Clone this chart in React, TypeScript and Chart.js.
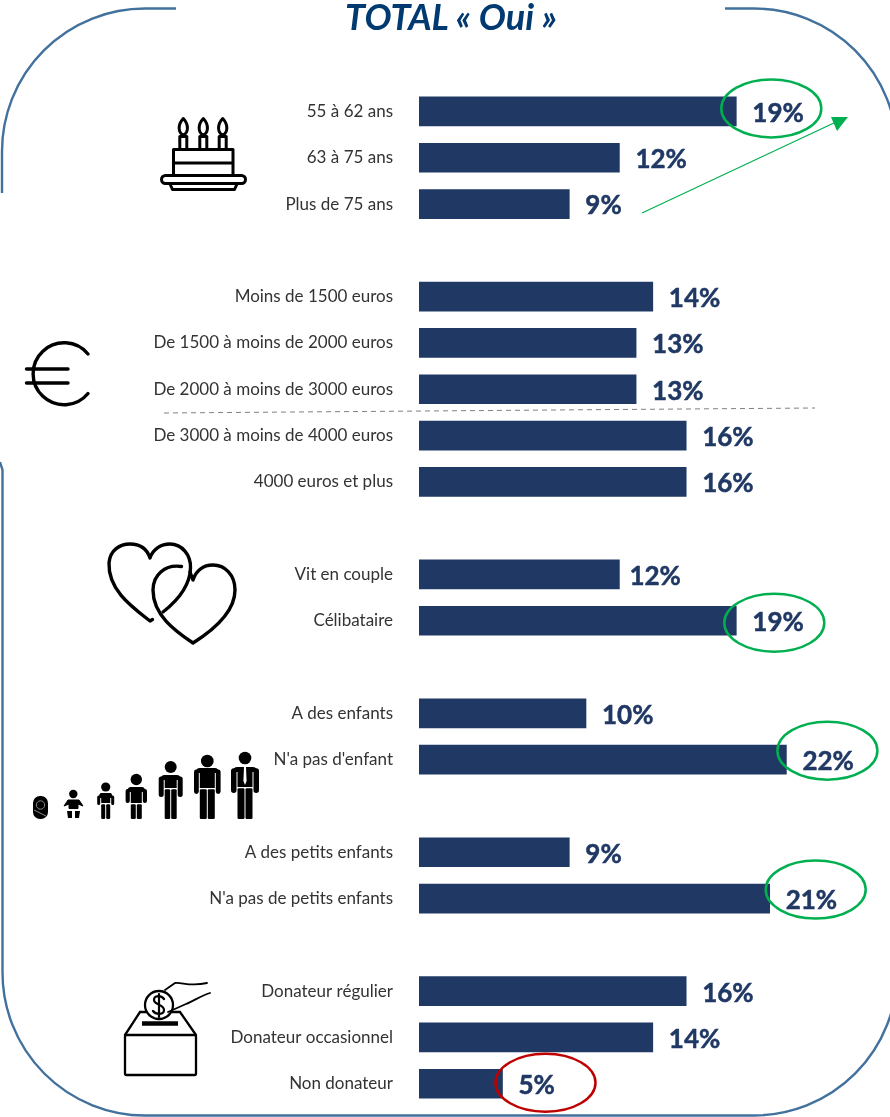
import React, { useEffect, useRef } from "react";
import { Chart, registerables } from "chart.js";

Chart.register(...registerables);

const categories = [
  "55 à 62 ans", "63 à 75 ans", "Plus de 75 ans", "",
  "Moins de 1500 euros", "De 1500 à moins de 2000 euros", "De 2000 à moins de 3000 euros",
  "De 3000 à moins de 4000 euros", "4000 euros et plus", "",
  "Vit en couple", "Célibataire", "",
  "A des enfants", "N'a pas d'enfant", "",
  "A des petits enfants", "N'a pas de petits enfants", "",
  "Donateur régulier", "Donateur occasionnel", "Non donateur",
];
const values = [
  19, 12, 9, null,
  14, 13, 13, 16, 16, null,
  12, 19, null,
  10, 22, null,
  9, 21, null,
  16, 14, 5,
];
const title = "TOTAL « Oui »";

const NAVY = "#203864";
const GREEN = "#00B050";
const RED = "#C00000";
const FRAME = "#41719C";

// highlighted value rings: row index, colour, offset of the ring from the bar end
const rings: [number, string, number, number][] = [
  [0, GREEN, 35, -3],
  [11, GREEN, 38, 2],
  [14, GREEN, 41, -9],
  [17, GREEN, 46, -9],
  [21, RED, 43, -1],
];

const annotations = {
  id: "annotations",
  afterDatasetsDraw(chart: any) {
    const { ctx, scales } = chart;
    const meta = chart.getDatasetMeta(0);
    ctx.save();
    ctx.font = "bold 26px Lato";
    ctx.fillStyle = NAVY;
    ctx.strokeStyle = NAVY;
    ctx.lineWidth = 0.5;
    ctx.textAlign = "left";
    ctx.textBaseline = "middle";
    values.forEach((v, i) => {
      if (v == null) return;
      const y = scales.y.getPixelForValue(i) + 2;
      const x = meta.data[i].x + (i === 10 ? 10 : 16);
      ctx.fillText(`${v}%`, x, y);
      ctx.strokeText(`${v}%`, x, y);
    });
    ctx.lineWidth = 2.5;
    rings.forEach(([row, color, dx, dy]) => {
      const cx = scales.x.getPixelForValue(values[row] as number) + dx;
      const cy = scales.y.getPixelForValue(row) + dy;
      ctx.strokeStyle = color;
      ctx.beginPath();
      ctx.ellipse(cx, cy, 50, 29, 0, 0, Math.PI * 2);
      ctx.stroke();
    });
    // growth arrow
    ctx.strokeStyle = GREEN;
    ctx.fillStyle = GREEN;
    ctx.lineWidth = 1.2;
    ctx.beginPath();
    ctx.moveTo(642, 213);
    ctx.lineTo(836, 122);
    ctx.stroke();
    ctx.beginPath();
    ctx.moveTo(831, 117);
    ctx.lineTo(848, 117);
    ctx.lineTo(837, 131);
    ctx.closePath();
    ctx.fill();
    // income separator
    ctx.strokeStyle = "#7F7F7F";
    ctx.lineWidth = 1;
    ctx.setLineDash([5, 4]);
    ctx.beginPath();
    ctx.moveTo(164, 413);
    ctx.lineTo(815, 408);
    ctx.stroke();
    ctx.restore();
  },
};

function Person({ x, head, r, top, hip, bottom, A, L, armEnd, tie }: any) {
  const a = A - L - 1;
  const ax = A - a / 2;
  return (
    <g>
      <circle cx={x} cy={head} r={r} fill="#000" />
      <path
        d={`M${x - A + 1.5} ${top + 5} Q${x - A + 2} ${top} ${x - L} ${top} H${x + L} Q${x + A - 2} ${top} ${x + A - 1.5} ${top + 5} Z`}
        fill="#000"
      />
      <rect x={x - L} y={top} width={L * 2} height={hip - top} fill="#000" />
      <path
        d={`M${x - ax} ${top + 4} V${armEnd - a / 2} M${x + ax} ${top + 4} V${armEnd - a / 2}`}
        stroke="#000"
        strokeWidth={a}
        strokeLinecap="round"
        fill="none"
      />
      <rect x={x - L} y={hip + 1.2} width={L - 0.5} height={bottom - hip - 1.2} rx={1.2} fill="#000" />
      <rect x={x + 0.5} y={hip + 1.2} width={L - 0.5} height={bottom - hip - 1.2} rx={1.2} fill="#000" />
      {tie && <path d={`M${x - 1} ${top} L${x + 1} ${top} L${x + 1.6} ${hip - 6} L${x} ${hip - 2} L${x - 1.6} ${hip - 6} Z`} fill="#fff" />}
    </g>
  );
}

function Decorations() {
  const k = { fill: "none", stroke: "#000", strokeLinecap: "round" as const, strokeLinejoin: "round" as const };
  return (
    <svg
      width={890}
      height={1117}
      style={{ position: "absolute", left: 0, top: 0, pointerEvents: "none" }}
    >
      {/* frame */}
      <g fill="none" stroke={FRAME} strokeWidth={2.4}>
        <path d="M176 8.5 H145 A143 143 0 0 0 2 151.5 V193" />
        <path d="M725 8.5 H754 A143 143 0 0 1 897 151.5" />
        <path d="M0 462 L2.5 470 V972 A143 143 0 0 0 145 1115.5 H754 A143 143 0 0 0 897 972" />
      </g>
      {/* cake */}
      <g {...k} strokeWidth={3}>
        {[183.3, 203.3, 222.7].map((x) => (
          <g key={x}>
            <path d={`M${x} 118.5 C${x + 6} 125 ${x + 5} 133 ${x} 135 C${x - 5} 133 ${x - 6} 125 ${x} 118.5 Z`} />
            <path d={`M${x - 3.5} 149 V136.5 H${x + 3.5} V149`} />
          </g>
        ))}
        <path d="M173.5 175 V149.5 H233 V175 M173.5 163 H233" />
        <rect x={161.5} y={175.5} width={84} height={8} rx={4} />
        <path d="M170 184 L172.5 189.5 H234.5 L237 184" />
      </g>
      {/* euro */}
      <g {...k} strokeWidth={3.4}>
        <path d="M88 354 A31 31 0 1 0 88 393.5" />
        <path d="M26.5 369 H68 M26.5 383 H68" />
      </g>
      {/* hearts */}
      <g {...k} strokeWidth={3.4}>
        <path d="M152.5 619.5 L150 621 C132 607 108 590 109 563 C110 550 120 544 130 544 C140 544 147 549 150 558 C153 549 161 544 170 544 C182 544 191 555 190.5 568 C190 586 177 601 163 612" />
        <path d="M181.5 566.5 C165 564 153 575 153 590 C153 615 175 631 193 643 C212 631 235 613 235 590 C235 575 225 565 213 565 C203 565 196 571 193 580 C192 577 191 575 190 572" />
      </g>
      {/* age ladder */}
      <g>
        <rect x={33} y={796} width={15} height={23} rx={7} fill="#000" />
        <circle cx={40.5} cy={805} r={4.2} fill="none" stroke="#888" strokeWidth={1} />
        <path d="M34 810 L46 816" stroke="#888" strokeWidth={1} />
        <circle cx={73.3} cy={794} r={4.2} fill="#000" />
        <path d="M64 806 L68 800 H79 L83 806 L78 804 V808.5 H69 V804 Z" fill="#000" stroke="#000" strokeWidth={1} strokeLinejoin="round" />
        <path d="M67 811 H72 V818 H68 Z M75 811 H80 L79 818 H75 Z" fill="#000" />
        <Person x={105.7} head={787} r={4.6} top={793} hip={803} bottom={819} A={8.5} L={4.5} armEnd={805} />
        <Person x={136.3} head={779.5} r={5.7} top={787} hip={803} bottom={819} A={10.7} L={5.5} armEnd={803} />
        <Person x={170.7} head={767} r={6} top={775} hip={788} bottom={819} A={12} L={6} armEnd={797} />
        <Person x={207.3} head={761} r={6.3} top={768} hip={788} bottom={819} A={13.3} L={7.5} armEnd={794} />
        <Person x={245} head={758} r={6.3} top={767} hip={787} bottom={819} A={14} L={7.5} armEnd={793} tie />
      </g>
      {/* donation box */}
      <g {...k} strokeWidth={2.3}>
        <rect x={125} y={1035} width={71} height={40} rx={1.5} />
        <path d="M125 1035 L140 1012 M180 1012 L196 1035 M140 1012 H146 M172 1012 H180" />
        <path d="M142 1023.5 H178" strokeWidth={4.5} strokeLinecap="butt" />
        <circle cx={159} cy={1005} r={14} />
        <path d="M164 999 C161 995 154 995 154 1000 C154 1005 164 1004 164 1010 C164 1015 156 1015 153 1011 M159 994 V1017" strokeWidth={2.2} />
        <path d="M165 990 L175 983 C182 982 190 987 207 983 M210 993 C200 996 194 1001 186 1004 L168 1012" strokeWidth={1.8} />
      </g>
    </svg>
  );
}

export default function App() {
  const ref = useRef<HTMLCanvasElement>(null);
  useEffect(() => {
    const chart = new Chart(ref.current!, {
      type: "bar",
      data: {
        labels: categories,
        datasets: [{ data: values as any, backgroundColor: NAVY, barThickness: 29 }],
      },
      options: {
        indexAxis: "y",
        animation: false,
        responsive: false,
        layout: { padding: { top: 88.3, bottom: 10.1, right: 3.4, left: 0 } },
        plugins: { legend: { display: false }, tooltip: { enabled: false }, title: { display: false } },
        scales: {
          x: { display: false, min: 0, max: 28 },
          y: {
            grid: { display: false, drawTicks: false },
            border: { display: false },
            afterFit(axis: any) {
              axis.width = 419;
              axis.paddingTop = 0;
              axis.paddingBottom = 0;
            },
            ticks: {
              autoSkip: false,
              padding: 26,
              color: "#333333",
              font: { family: "Lato", size: 17 },
            },
          },
        },
      },
      plugins: [annotations],
    });
    return () => chart.destroy();
  }, []);
  return (
    <div style={{ position: "absolute", left: 0, top: 0, width: 890, height: 1117, overflow: "hidden", background: "#fff" }}>
      <canvas ref={ref} width={890} height={1117} style={{ display: "block" }} />
      <Decorations />
      <div
        style={{
          position: "absolute", left: 0, width: 902, top: -4, textAlign: "center",
          font: "italic bold 36px Lato", color: "#003A70", lineHeight: "40px",
        }}
      >
        {title}
      </div>
    </div>
  );
}
